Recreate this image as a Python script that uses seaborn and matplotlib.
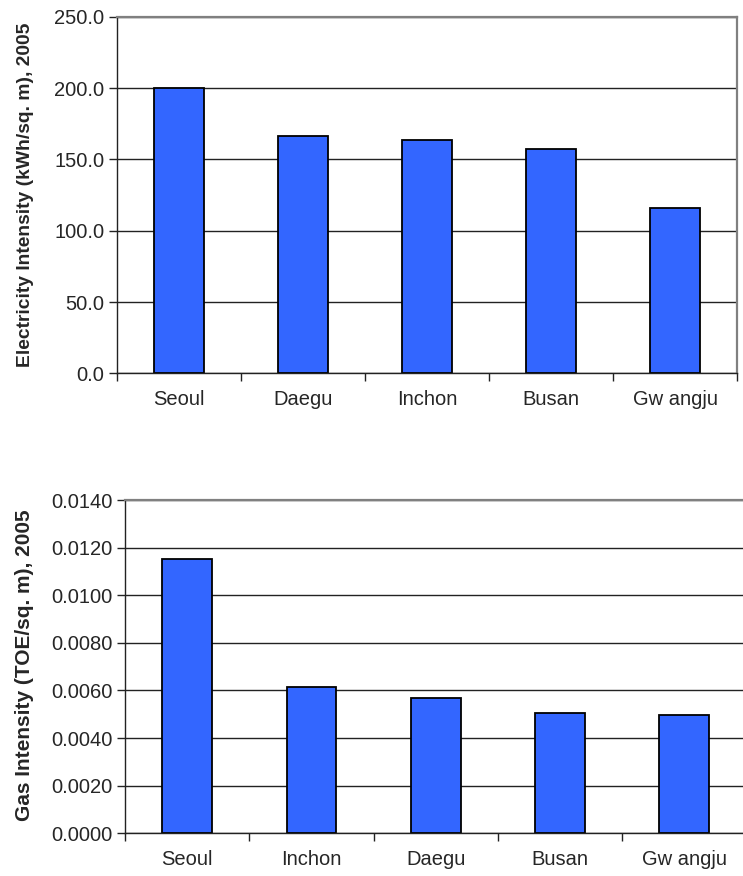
import seaborn as sns
import matplotlib.pyplot as plt
import pandas as pd
import numpy as np
from matplotlib.ticker import FixedLocator, FormatStrFormatter

# Electricity intensity by city (kWh/sq. m), 2005
elec_cities = ['Seoul', 'Daegu', 'Inchon', 'Busan', 'Gw angju']
elec_values = [199.8, 166.3, 163.5, 157.0, 116.0]

# Gas intensity by city (TOE/sq. m), 2005
gas_cities = ['Seoul', 'Inchon', 'Daegu', 'Busan', 'Gw angju']
gas_values = [0.01154, 0.00616, 0.00568, 0.00506, 0.00497]

elec_ticks = [0, 50, 100, 150, 200, 250]
gas_ticks = [0, 0.002, 0.004, 0.006, 0.008, 0.010, 0.012, 0.014]

sns.set_style('white')
plt.rcParams['font.family'] = ['Liberation Sans', 'DejaVu Sans']

fig = plt.figure(figsize=(7.43, 8.76), dpi=100)
ax1 = fig.add_axes([0.1571, 0.5737, 0.8349, 0.4072])
ax2 = fig.add_axes([0.1682, 0.0487, 0.8365, 0.3805])

elec_df = pd.DataFrame({'city': elec_cities, 'value': elec_values})
gas_df = pd.DataFrame({'city': gas_cities, 'value': gas_values})


def style_axes(ax, ticks, fmt, label, label_size):
    ax.set_axisbelow(True)
    ax.yaxis.grid(True, color='#222222', linewidth=1.0)
    ax.set_ylim(ticks[0], ticks[-1])
    ax.set_yticks(ticks)
    ax.yaxis.set_major_formatter(FormatStrFormatter(fmt))
    ax.set_xlim(-0.5, 4.5)
    ax.xaxis.set_minor_locator(FixedLocator(np.arange(-0.5, 5.0, 1.0)))
    ax.tick_params(axis='x', which='major', length=0, pad=12, labelsize=14.5)
    ax.tick_params(axis='x', which='minor', length=6, width=1, color='#222222',
                   direction='out', bottom=True)
    ax.tick_params(axis='y', length=6, width=1, color='#222222', direction='out',
                   left=True, labelsize=14.5, pad=3)
    for side in ['left', 'bottom']:
        ax.spines[side].set_color('#222222')
        ax.spines[side].set_linewidth(1.0)
    for side in ['top', 'right']:
        ax.spines[side].set_color('#808080')
        ax.spines[side].set_linewidth(1.6)
    ax.set_xlabel('')
    ax.set_ylabel(label, fontsize=label_size, fontweight='bold')


sns.barplot(data=elec_df, x='city', y='value', ax=ax1, color='#3366FF',
            saturation=1, width=0.4, edgecolor='black', linewidth=1.3)
style_axes(ax1, elec_ticks, '%.1f', 'Electricity Intensity (kWh/sq. m), 2005', 13.9)
ax1.yaxis.set_label_coords(-0.133, 0.5)

sns.barplot(data=gas_df, x='city', y='value', ax=ax2, color='#3366FF',
            saturation=1, width=0.4, edgecolor='black', linewidth=1.3)
style_axes(ax2, gas_ticks, '%.4f', 'Gas Intensity (TOE/sq. m), 2005', 15)
ax2.yaxis.set_label_coords(-0.146, 0.503)

plt.savefig('out.png', dpi=100)
